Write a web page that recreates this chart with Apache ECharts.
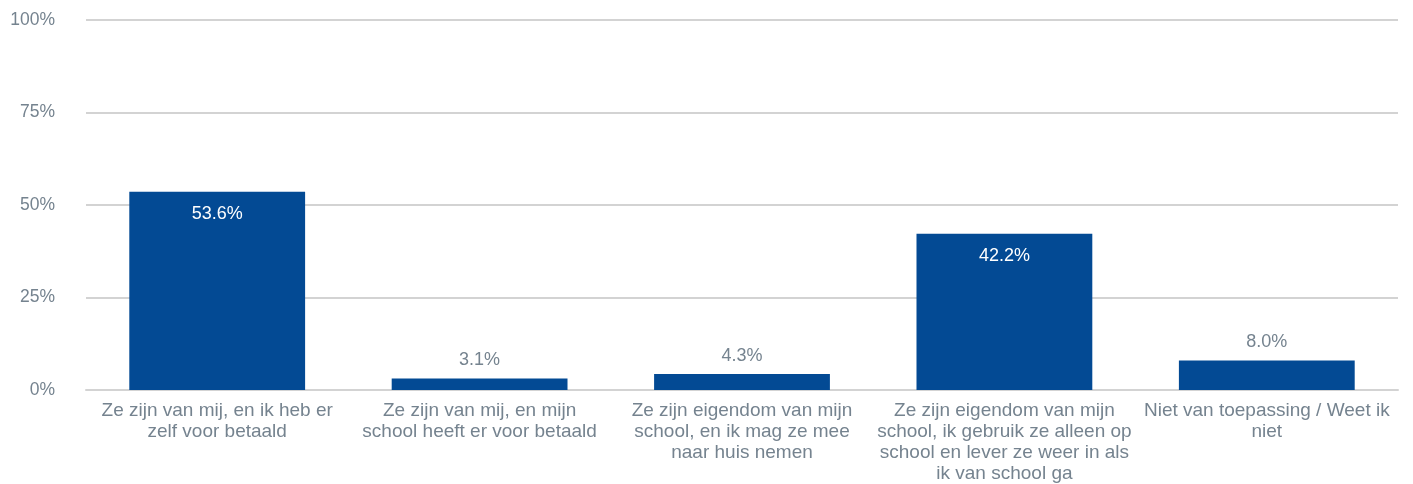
<!DOCTYPE html>
<html>
<head>
<meta charset="utf-8">
<script src="https://cdn.jsdelivr.net/npm/echarts@6/dist/echarts.min.js"></script>
<style>
  html, body { margin: 0; padding: 0; background: #fff; }
  #chart { width: 1413px; height: 484px; }
</style>
</head>
<body>
<div id="chart"></div>
<script>
// categories (line breaks as in the original)
var categories = [
  'Ze zijn van mij, en ik heb er\nzelf voor betaald',
  'Ze zijn van mij, en mijn\nschool heeft er voor betaald',
  'Ze zijn eigendom van mijn\nschool, en ik mag ze mee\nnaar huis nemen',
  'Ze zijn eigendom van mijn\nschool, ik gebruik ze alleen op\nschool en lever ze weer in als\nik van school ga',
  'Niet van toepassing / Weet ik\nniet'
];
var values = [53.6, 3.1, 4.3, 42.2, 8.0];
var yTicks = [0, 25, 50, 75, 100];

var textColor = '#75838f';
var barColor = '#034a94';
var font = 'Liberation Sans, Arial, sans-serif';

var chart = echarts.init(document.getElementById('chart'), null, { renderer: 'canvas' });

var seriesData = values.map(function (v) {
  // big bars get the label inside, small ones above
  var inside = v > 20;
  return {
    value: v,
    label: inside
      ? { position: 'insideTop', distance: 13, color: '#ffffff' }
      : { position: 'top', distance: 9, color: textColor }
  };
});

var option = {
  animation: false,
  grid: {
    left: 86,
    right: 15,
    top: 20,
    bottom: 91,
    containLabel: false
  },
  xAxis: {
    type: 'category',
    data: categories,
    axisLine: { show: true, lineStyle: { color: '#d3d3d3', width: 2 } },
    axisTick: { show: false },
    axisLabel: {
      color: textColor,
      fontFamily: font,
      fontSize: 19,
      lineHeight: 21,
      margin: 10,
      interval: 0
    }
  },
  yAxis: {
    type: 'value',
    min: yTicks[0],
    max: yTicks[yTicks.length - 1],
    interval: 25,
    axisLine: { show: false },
    axisTick: { show: false },
    splitLine: { lineStyle: { color: '#d3d3d3', width: 2 } },
    axisLabel: {
      color: textColor,
      fontFamily: font,
      fontSize: 17.5,
      margin: 31,
      formatter: '{value}%'
    }
  },
  series: [{
    type: 'bar',
    data: seriesData,
    barWidth: '67%',
    itemStyle: { color: barColor },
    label: {
      show: true,
      fontFamily: font,
      fontSize: 18,
      formatter: function (p) { return p.value.toFixed(1) + '%'; }
    }
  }]
};

chart.setOption(option);
</script>
</body>
</html>
